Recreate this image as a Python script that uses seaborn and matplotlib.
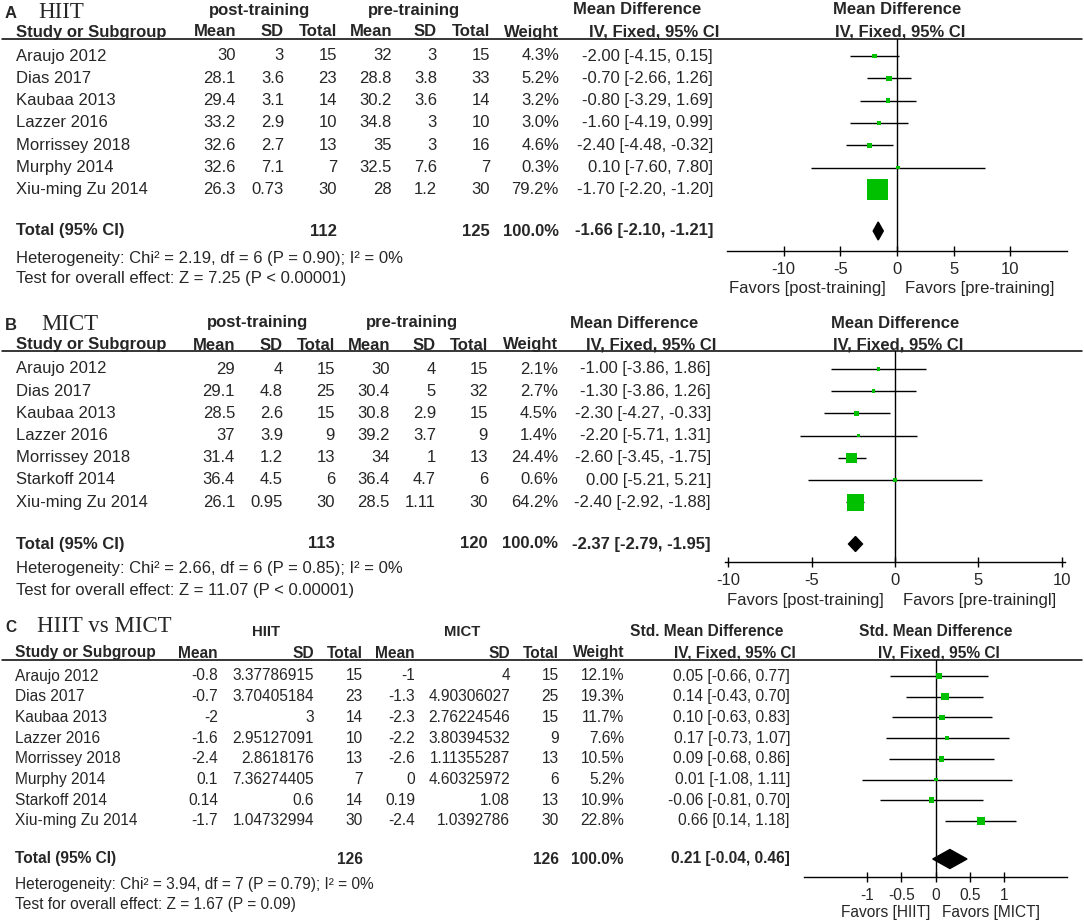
import matplotlib
matplotlib.use('Agg')
import numpy as np
import pandas as pd
import matplotlib.pyplot as plt
import seaborn as sns
from matplotlib.ticker import FuncFormatter

# ---- dados do painel A (HIIT) ----
studies_a = ['Araujo 2012', 'Dias 2017', 'Kaubaa 2013', 'Lazzer 2016',
             'Morrissey 2018', 'Murphy 2014', 'Xiu-ming Zu 2014']
post_mean_a = [30, 28.1, 29.4, 33.2, 32.6, 32.6, 26.3]
post_sd_a = [3, 3.6, 3.1, 2.9, 2.7, 7.1, 0.73]
post_n_a = [15, 23, 14, 10, 13, 7, 30]
pre_mean_a = [32, 28.8, 30.2, 34.8, 35, 32.5, 28]
pre_sd_a = [3, 3.8, 3.6, 3, 3, 7.6, 1.2]
pre_n_a = [15, 33, 14, 10, 16, 7, 30]
weight_a = [4.3, 5.2, 3.2, 3.0, 4.6, 0.3, 79.2]
md_a = [-2.00, -0.70, -0.80, -1.60, -2.40, 0.10, -1.70]
lo_a = [-4.15, -2.66, -3.29, -4.19, -4.48, -7.60, -2.20]
hi_a = [0.15, 1.26, 1.69, 0.99, -0.32, 7.80, -1.20]
total_a = [112, 125, -1.66, -2.10, -1.21]
het_a = 'Heterogeneity: Chi² = 2.19, df = 6 (P = 0.90); I² = 0%'
test_a = 'Test for overall effect: Z = 7.25 (P < 0.00001)'

# ---- dados do painel B (MICT) ----
studies_b = ['Araujo 2012', 'Dias 2017', 'Kaubaa 2013', 'Lazzer 2016',
             'Morrissey 2018', 'Starkoff 2014', 'Xiu-ming Zu 2014']
post_mean_b = [29, 29.1, 28.5, 37, 31.4, 36.4, 26.1]
post_sd_b = [4, 4.8, 2.6, 3.9, 1.2, 4.5, 0.95]
post_n_b = [15, 25, 15, 9, 13, 6, 30]
pre_mean_b = [30, 30.4, 30.8, 39.2, 34, 36.4, 28.5]
pre_sd_b = [4, 5, 2.9, 3.7, 1, 4.7, 1.11]
pre_n_b = [15, 32, 15, 9, 13, 6, 30]
weight_b = [2.1, 2.7, 4.5, 1.4, 24.4, 0.6, 64.2]
md_b = [-1.00, -1.30, -2.30, -2.20, -2.60, 0.00, -2.40]
lo_b = [-3.86, -3.86, -4.27, -5.71, -3.45, -5.21, -2.92]
hi_b = [1.86, 1.26, -0.33, 1.31, -1.75, 5.21, -1.88]
total_b = [113, 120, -2.37, -2.79, -1.95]
het_b = 'Heterogeneity: Chi² = 2.66, df = 6 (P = 0.85); I² = 0%'
test_b = 'Test for overall effect: Z = 11.07 (P < 0.00001)'

# ---- dados do painel C (HIIT vs MICT) ----
studies_c = ['Araujo 2012', 'Dias 2017', 'Kaubaa 2013', 'Lazzer 2016',
             'Morrissey 2018', 'Murphy 2014', 'Starkoff 2014', 'Xiu-ming Zu 2014']
hiit_mean_c = [-0.8, -0.7, -2, -1.6, -2.4, 0.1, 0.14, -1.7]
hiit_sd_c = [3.37786915, 3.70405184, 3, 2.95127091, 2.8618176, 7.36274405, 0.6, 1.04732994]
hiit_n_c = [15, 23, 14, 10, 13, 7, 14, 30]
mict_mean_c = [-1, -1.3, -2.3, -2.2, -2.6, 0, 0.19, -2.4]
mict_sd_c = [4, 4.90306027, 2.76224546, 3.80394532, 1.11355287, 4.60325972, 1.08, 1.0392786]
mict_n_c = [15, 25, 15, 9, 13, 6, 13, 30]
weight_c = [12.1, 19.3, 11.7, 7.6, 10.5, 5.2, 10.9, 22.8]
smd_c = [0.05, 0.14, 0.10, 0.17, 0.09, 0.01, -0.06, 0.66]
lo_c = [-0.66, -0.43, -0.63, -0.73, -0.68, -1.08, -0.81, 0.14]
hi_c = [0.77, 0.70, 0.83, 1.07, 0.86, 1.11, 0.70, 1.18]
total_c = [126, 126, 0.21, -0.04, 0.46]
het_c = 'Heterogeneity: Chi² = 3.94, df = 7 (P = 0.79); I² = 0%'
test_c = 'Test for overall effect: Z = 1.67 (P = 0.09)'

GREEN = '#00c000'
W, H = 1084, 923

sns.set_theme(style='white')
plt.rcParams['font.family'] = ['Liberation Sans', 'DejaVu Sans']
plt.rcParams['axes.unicode_minus'] = False

fig = plt.figure(figsize=(W / 100, H / 100), dpi=100)
bg = fig.add_axes([0, 0, 1, 1])
bg.set_xlim(0, W)
bg.set_ylim(H, 0)
bg.axis('off')


def fmt(v):
    return f'{v:.10g}'


def draw_panel(letter, title, groups, studies, cols, weights, est, lo, hi, total,
               het, test, es_name, favors, lay):
    fs = lay['fs']
    # titulo do painel
    bg.text(5, lay['y_title'], letter, fontsize=fs, fontweight='bold', va='center')
    bg.text(lay['title_x'], lay['y_title'] - 1, title, fontsize=16.5, va='center',
            family=['Liberation Serif', 'DejaVu Serif'])
    # grupos
    for g, gx in zip(groups, lay['group_x']):
        bg.text(gx, lay['y_group'], g, fontsize=lay['grp_fs'], fontweight='bold',
                ha='center', va='center')
    bg.text(lay['es_x'][0], lay['y_group'], es_name, fontsize=fs, fontweight='bold',
            ha='center', va='center')
    # cabecalho
    cx = lay['col_x']
    bg.text(lay['study_x'], lay['y_head'], 'Study or Subgroup', fontsize=fs,
            fontweight='bold', va='center')
    for h, x in zip(['Mean', 'SD', 'Total', 'Mean', 'SD', 'Total', 'Weight'], cx[:7]):
        bg.text(x, lay['y_head'], h, fontsize=fs, fontweight='bold', ha='right', va='center')
    bg.text(lay['es_x'][1], lay['y_head'], 'IV, Fixed, 95% CI', fontsize=fs,
            fontweight='bold', ha='center', va='center')
    bg.plot([2, 1082], [lay['y_line'], lay['y_line']], color='black', lw=1.1)

    # linhas dos estudos
    ys = lay['row0'] + np.arange(len(studies)) * lay['step']
    for i, s in enumerate(studies):
        y = ys[i]
        bg.text(lay['study_x'], y, s, fontsize=fs, va='center')
        for col, x in zip(cols, cx[:6]):
            bg.text(x, y, fmt(col[i]), fontsize=fs, ha='right', va='center')
        bg.text(cx[6], y, f'{weights[i]:.1f}%', fontsize=fs, ha='right', va='center')
        bg.text(cx[7], y, f'{est[i]:.2f} [{lo[i]:.2f}, {hi[i]:.2f}]', fontsize=fs,
                ha='right', va='center')

    # total
    yt = lay['y_total']
    bg.text(lay['study_x'], yt, 'Total (95% CI)', fontsize=fs, fontweight='bold', va='center')
    bg.text(cx[2], yt, str(total[0]), fontsize=fs, fontweight='bold', ha='right', va='center')
    bg.text(cx[5], yt, str(total[1]), fontsize=fs, fontweight='bold', ha='right', va='center')
    bg.text(cx[6], yt, '100.0%', fontsize=fs, fontweight='bold', ha='right', va='center')
    bg.text(cx[7], yt, f'{total[2]:.2f} [{total[3]:.2f}, {total[4]:.2f}]', fontsize=fs,
            fontweight='bold', ha='right', va='center')
    bg.text(lay['study_x'], lay['y_het'], het, fontsize=fs, va='center')
    bg.text(lay['study_x'], lay['y_test'], test, fontsize=fs, va='center')

    # forest plot
    x0, x1 = lay['fx']
    xmin, xmax = lay['xlim']
    ya = lay['y_axis']
    ax = fig.add_axes([x0 / W, 1 - ya / H, (x1 - x0) / W, (ya - lay['y_line']) / H])
    ax.set_facecolor('none')
    ax.set_xlim(xmin, xmax)
    ax.set_ylim(ya, lay['y_line'])
    zero_px = x0 + (0 - xmin) / (xmax - xmin) * (x1 - x0)
    bg.text(zero_px, lay['y_group'], es_name, fontsize=fs, fontweight='bold',
            ha='center', va='center')
    bg.text(zero_px + 3, lay['y_head'], 'IV, Fixed, 95% CI', fontsize=fs,
            fontweight='bold', ha='center', va='center')

    ax.axvline(0, color='black', lw=1)
    ax.hlines(ys, lo, hi, color='black', lw=1)
    w = np.array(weights)
    side_px = np.maximum(lay['max_side'] * np.sqrt(w / w.max()), 3.5)
    df = pd.DataFrame({'est': est, 'y': ys, 'area': (side_px * 0.72) ** 2})
    sns.scatterplot(data=df, x='est', y='y', s=df['area'], marker='s', color=GREEN,
                    edgecolor=GREEN, linewidth=0, ax=ax, legend=False, zorder=3)
    dh = lay['dh']
    ax.fill([total[3], total[2], total[4], total[2]], [yt, yt - dh, yt, yt + dh],
            color='black', zorder=3)

    sns.despine(ax=ax, left=True)
    ax.spines['bottom'].set_color('black')
    ax.spines['bottom'].set_linewidth(1)
    ax.set_yticks([])
    ax.set_xticks(lay['ticks'])
    ax.xaxis.set_major_formatter(FuncFormatter(lambda v, p: f'{v:g}'))
    ax.tick_params(axis='x', direction='inout', length=7.2, width=1, color='black',
                   pad=4, labelsize=lay['tick_fs'], bottom=True)
    ax.set_xlabel('')
    ax.set_ylabel('')
    bg.text(zero_px + lay['fav_off'][0], lay['y_fav'], favors[0], fontsize=lay['tick_fs'],
            ha='right', va='center')
    bg.text(zero_px + lay['fav_off'][1], lay['y_fav'], favors[1], fontsize=lay['tick_fs'],
            ha='left', va='center')


lay_a = dict(fs=12, grp_fs=12, y_title=13, title_x=38, y_group=10, y_head=32, y_line=39,
             row0=56, step=22.3, y_total=231, y_het=258, y_test=279, study_x=16,
             group_x=[260, 414], col_x=[236, 284, 337, 392, 437, 490, 559, 713],
             es_x=[637, 654], fx=(727, 1067), xlim=(-15, 15), y_axis=251,
             ticks=[-10, -5, 0, 5, 10], max_side=21, dh=9, tick_fs=12,
             y_fav=288, fav_off=(-11, 8))
lay_b = dict(fs=12, grp_fs=12, y_title=325, title_x=41, y_group=323, y_head=345, y_line=351,
             row0=369, step=22.2, y_total=544, y_het=568, y_test=590, study_x=16,
             group_x=[258, 412], col_x=[235, 283, 335, 390, 436, 488, 558, 711],
             es_x=[634, 651], fx=(725, 1065), xlim=(-10.2, 10.2), y_axis=562,
             ticks=[-10, -5, 0, 5, 10], max_side=17, dh=7.5, tick_fs=12,
             y_fav=600, fav_off=(-11, 8))
lay_c = dict(fs=11.2, grp_fs=10.7, y_title=628, title_x=37, y_group=632, y_head=653, y_line=660,
             row0=676, step=20.7, y_total=859, y_het=884, y_test=904, study_x=15,
             group_x=[266, 462], col_x=[218, 314, 363, 415, 510, 559, 624, 790],
             es_x=[707, 735], fx=(804, 1067), xlim=(-1.92, 1.92), y_axis=877,
             ticks=[-1, -0.5, 0, 0.5, 1], max_side=8, dh=9.5, tick_fs=11.2,
             y_fav=912, fav_off=(-5, 7))

draw_panel('A', 'HIIT', ['post-training', 'pre-training'], studies_a,
           [post_mean_a, post_sd_a, post_n_a, pre_mean_a, pre_sd_a, pre_n_a],
           weight_a, md_a, lo_a, hi_a, total_a, het_a, test_a, 'Mean Difference',
           ['Favors [post-training]', 'Favors [pre-training]'], lay_a)
draw_panel('B', 'MICT', ['post-training', 'pre-training'], studies_b,
           [post_mean_b, post_sd_b, post_n_b, pre_mean_b, pre_sd_b, pre_n_b],
           weight_b, md_b, lo_b, hi_b, total_b, het_b, test_b, 'Mean Difference',
           ['Favors [post-training]', 'Favors [pre-trainingl]'], lay_b)
draw_panel('C', 'HIIT vs MICT', ['HIIT', 'MICT'], studies_c,
           [hiit_mean_c, hiit_sd_c, hiit_n_c, mict_mean_c, mict_sd_c, mict_n_c],
           weight_c, smd_c, lo_c, hi_c, total_c, het_c, test_c, 'Std. Mean Difference',
           ['Favors [HIIT]', 'Favors [MICT]'], lay_c)

fig.savefig('out.png', dpi=100)
